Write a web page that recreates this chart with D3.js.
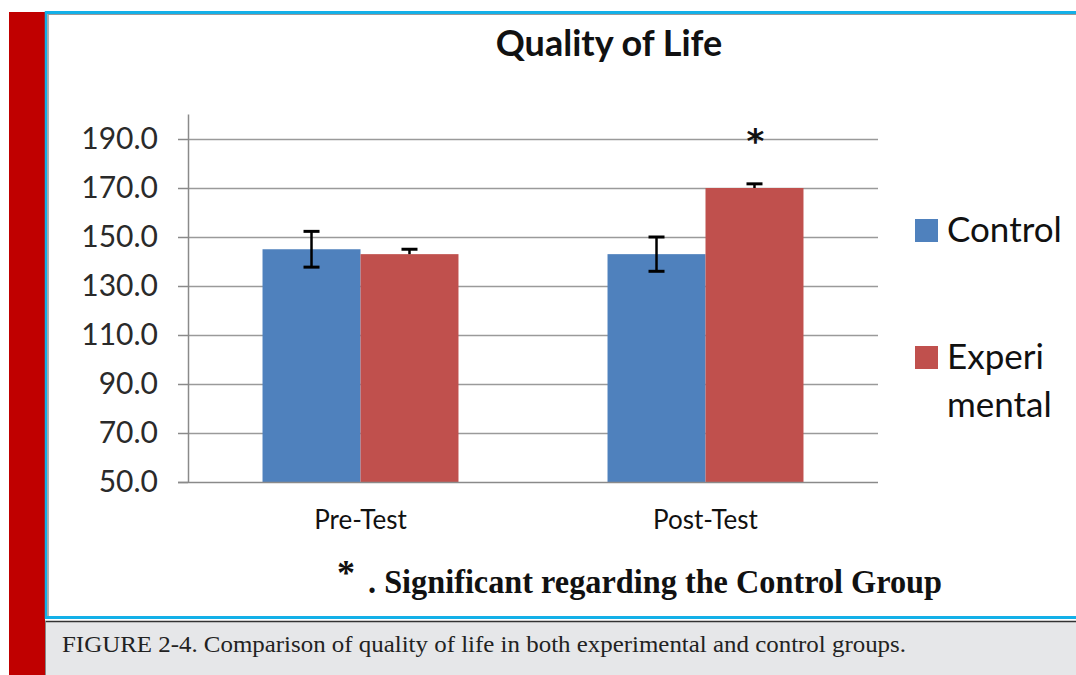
<!DOCTYPE html>
<html>
<head>
<meta charset="utf-8">
<script src="https://cdn.jsdelivr.net/npm/d3@7"></script>
<style>
  html, body { margin: 0; padding: 0; background: #ffffff; }
  svg { display: block; }
</style>
</head>
<body>
<svg id="chart" width="1076" height="675"></svg>
<script>
// ---- data ----
const categories = ["Pre-Test", "Post-Test"];
const seriesNames = ["Control", "Experimental"];
const controlValues = [145.0, 143.0];
const experimentalValues = [143.0, 170.0];
const controlErrors = [7.3, 7.0];
const experimentalErrors = [2.0, 1.7];
const yTicks = [50, 70, 90, 110, 130, 150, 170, 190];
const yDomain = [50, 200];
const titleText = "Quality of Life";
const footnoteText = ". Significant regarding the Control Group";
const captionText = "FIGURE 2-4. Comparison of quality of life in both experimental and control groups.";
const significance = [false, true]; // experimental significant per category

const colors = { Control: "#4F81BD", Experimental: "#C0504D" };
const font = "Lato, 'Open Sans', sans-serif";

const svg = d3.select("#chart");

// ---- page frame ----
svg.append("rect").attr("x", 9).attr("y", 12).attr("width", 36).attr("height", 663).attr("fill", "#C00000");
// caption box
svg.append("rect").attr("x", 45).attr("y", 621).attr("width", 1031).attr("height", 54).attr("fill", "#E6E7E9");
svg.append("line").attr("x1", 45).attr("x2", 1076).attr("y1", 621.5).attr("y2", 621.5).attr("stroke", "#333").attr("stroke-width", 1.5);
svg.append("line").attr("x1", 45.5).attr("x2", 45.5).attr("y1", 621).attr("y2", 675).attr("stroke", "#888").attr("stroke-width", 1);
// chart panel border
svg.append("line").attr("x1", 45).attr("x2", 1076).attr("y1", 12.5).attr("y2", 12.5).attr("stroke", "#13B0E8").attr("stroke-width", 3);
svg.append("line").attr("x1", 48).attr("x2", 1076).attr("y1", 14.5).attr("y2", 14.5).attr("stroke", "#999").attr("stroke-width", 1);
svg.append("line").attr("x1", 46).attr("x2", 46).attr("y1", 11).attr("y2", 619).attr("stroke", "#13B0E8").attr("stroke-width", 2.5);
svg.append("line").attr("x1", 48).attr("x2", 48).attr("y1", 14).attr("y2", 616).attr("stroke", "#999").attr("stroke-width", 1.5);
svg.append("line").attr("x1", 45).attr("x2", 1076).attr("y1", 617.5).attr("y2", 617.5).attr("stroke", "#13B0E8").attr("stroke-width", 3);

// ---- scales ----
const plot = { left: 188, right: 878, top: 114.5, bottom: 482 };
const y = d3.scaleLinear().domain(yDomain).range([plot.bottom, plot.top]);
const x0 = d3.scaleBand().domain(categories).range([plot.left, plot.right]).paddingInner(0.432).paddingOuter(0.216);
const x1 = d3.scaleBand().domain(seriesNames).range([0, x0.bandwidth()]);

// gridlines
svg.append("g").selectAll("line").data(yTicks.filter(t => t !== yDomain[0])).join("line")
  .attr("x1", plot.left).attr("x2", plot.right)
  .attr("y1", d => Math.round(y(d)) + 0.5).attr("y2", d => Math.round(y(d)) + 0.5)
  .attr("stroke", "#9A9A9A").attr("stroke-width", 1.5);

// y axis
const yAxis = d3.axisLeft(y).tickValues(yTicks).tickFormat(d3.format(".1f")).tickSize(10).tickPadding(20);
const gy = svg.append("g").attr("transform", `translate(${plot.left},0)`).call(yAxis);
gy.select(".domain").attr("stroke", "#8A8A8A").attr("stroke-width", 1.5).attr("d", `M0.5,${plot.top}V${plot.bottom}`);
gy.selectAll(".tick line").attr("stroke", "#8A8A8A").attr("stroke-width", 1.5);
gy.selectAll(".tick text").attr("font-family", font).attr("font-size", 30).attr("fill", "#2a2a2a");

// bars
const data = categories.map((c, i) => ({
  cat: c,
  vals: [
    { s: "Control", v: controlValues[i], e: controlErrors[i], both: true },
    { s: "Experimental", v: experimentalValues[i], e: experimentalErrors[i], both: false }
  ]
}));
const groups = svg.append("g").selectAll("g").data(data).join("g")
  .attr("transform", d => `translate(${x0(d.cat)},0)`);
groups.selectAll("rect").data(d => d.vals).join("rect")
  .attr("x", d => x1(d.s)).attr("width", x1.bandwidth())
  .attr("y", d => y(d.v)).attr("height", d => y(yDomain[0]) - y(d.v))
  .attr("fill", d => colors[d.s]);

// x axis baseline
svg.append("line").attr("x1", plot.left - 10).attr("x2", plot.right)
  .attr("y1", plot.bottom + 0.5).attr("y2", plot.bottom + 0.5).attr("stroke", "#8A8A8A").attr("stroke-width", 1.5);
const xAxis = d3.axisBottom(x0).tickSize(0).tickPadding(29);
const gx = svg.append("g").attr("transform", `translate(0,${plot.bottom})`).call(xAxis);
gx.select(".domain").remove();
gx.selectAll(".tick text").attr("font-family", font).attr("font-size", 26).attr("fill", "#111");

// error bars
const eb = groups.selectAll("g.err").data(d => d.vals).join("g").attr("class", "err");
const cap = 8;
eb.append("line")
  .attr("x1", d => x1(d.s) + x1.bandwidth() / 2).attr("x2", d => x1(d.s) + x1.bandwidth() / 2)
  .attr("y1", d => y(d.v + d.e)).attr("y2", d => d.both ? y(d.v - d.e) : y(d.v))
  .attr("stroke", "#000").attr("stroke-width", 2.5);
eb.append("line")
  .attr("x1", d => x1(d.s) + x1.bandwidth() / 2 - cap).attr("x2", d => x1(d.s) + x1.bandwidth() / 2 + cap)
  .attr("y1", d => y(d.v + d.e)).attr("y2", d => y(d.v + d.e))
  .attr("stroke", "#000").attr("stroke-width", 3);
eb.filter(d => d.both).append("line")
  .attr("x1", d => x1(d.s) + x1.bandwidth() / 2 - cap).attr("x2", d => x1(d.s) + x1.bandwidth() / 2 + cap)
  .attr("y1", d => y(d.v - d.e)).attr("y2", d => y(d.v - d.e))
  .attr("stroke", "#000").attr("stroke-width", 3);

// significance asterisk
groups.filter((d, i) => significance[i]).append("text")
  .attr("x", x1("Experimental") + x1.bandwidth() / 2 + 1)
  .attr("y", y(190) + 14)
  .attr("text-anchor", "middle").attr("font-family", "'DejaVu Sans', sans-serif").attr("font-weight", "bold")
  .attr("font-size", 34).attr("fill", "#111")
  .text("*");

// title
svg.append("text").attr("x", 609).attr("y", 56).attr("text-anchor", "middle")
  .attr("font-family", font).attr("font-weight", "bold").attr("font-size", 36).attr("fill", "#111")
  .text(titleText);

// legend
const legendRows = [
  { name: "Control", lines: ["Control"], y: 230 },
  { name: "Experimental", lines: ["Experi", "mental"], y: 357 }
];
const lg = svg.append("g").selectAll("g").data(legendRows).join("g");
lg.append("rect").attr("x", 915).attr("y", d => d.y - 11).attr("width", 23).attr("height", 23)
  .attr("fill", d => colors[d.name]);
lg.each(function(d) {
  d3.select(this).selectAll("text").data(d.lines).join("text")
    .attr("x", 947).attr("y", (t, i) => d.y + 12 + i * 48)
    .attr("font-family", font).attr("font-size", 35).attr("fill", "#111")
    .text(t => t);
});

// footnote
svg.append("text").attr("x", 346).attr("y", 585).attr("text-anchor", "middle")
  .attr("font-family", "'Liberation Serif', serif").attr("font-weight", "bold").attr("font-size", 36).attr("fill", "#111")
  .text("*");
svg.append("text").attr("x", 368).attr("y", 593)
  .attr("font-family", "'Liberation Serif', serif").attr("font-weight", "bold").attr("font-size", 34).attr("fill", "#111")
  .attr("textLength", 574).attr("lengthAdjust", "spacingAndGlyphs")
  .text(footnoteText);

// caption
svg.append("text").attr("x", 62).attr("y", 652)
  .attr("font-family", "'Liberation Serif', serif").attr("font-size", 23).attr("fill", "#222")
  .attr("textLength", 844).attr("lengthAdjust", "spacingAndGlyphs")
  .text(captionText);
</script>
</body>
</html>
